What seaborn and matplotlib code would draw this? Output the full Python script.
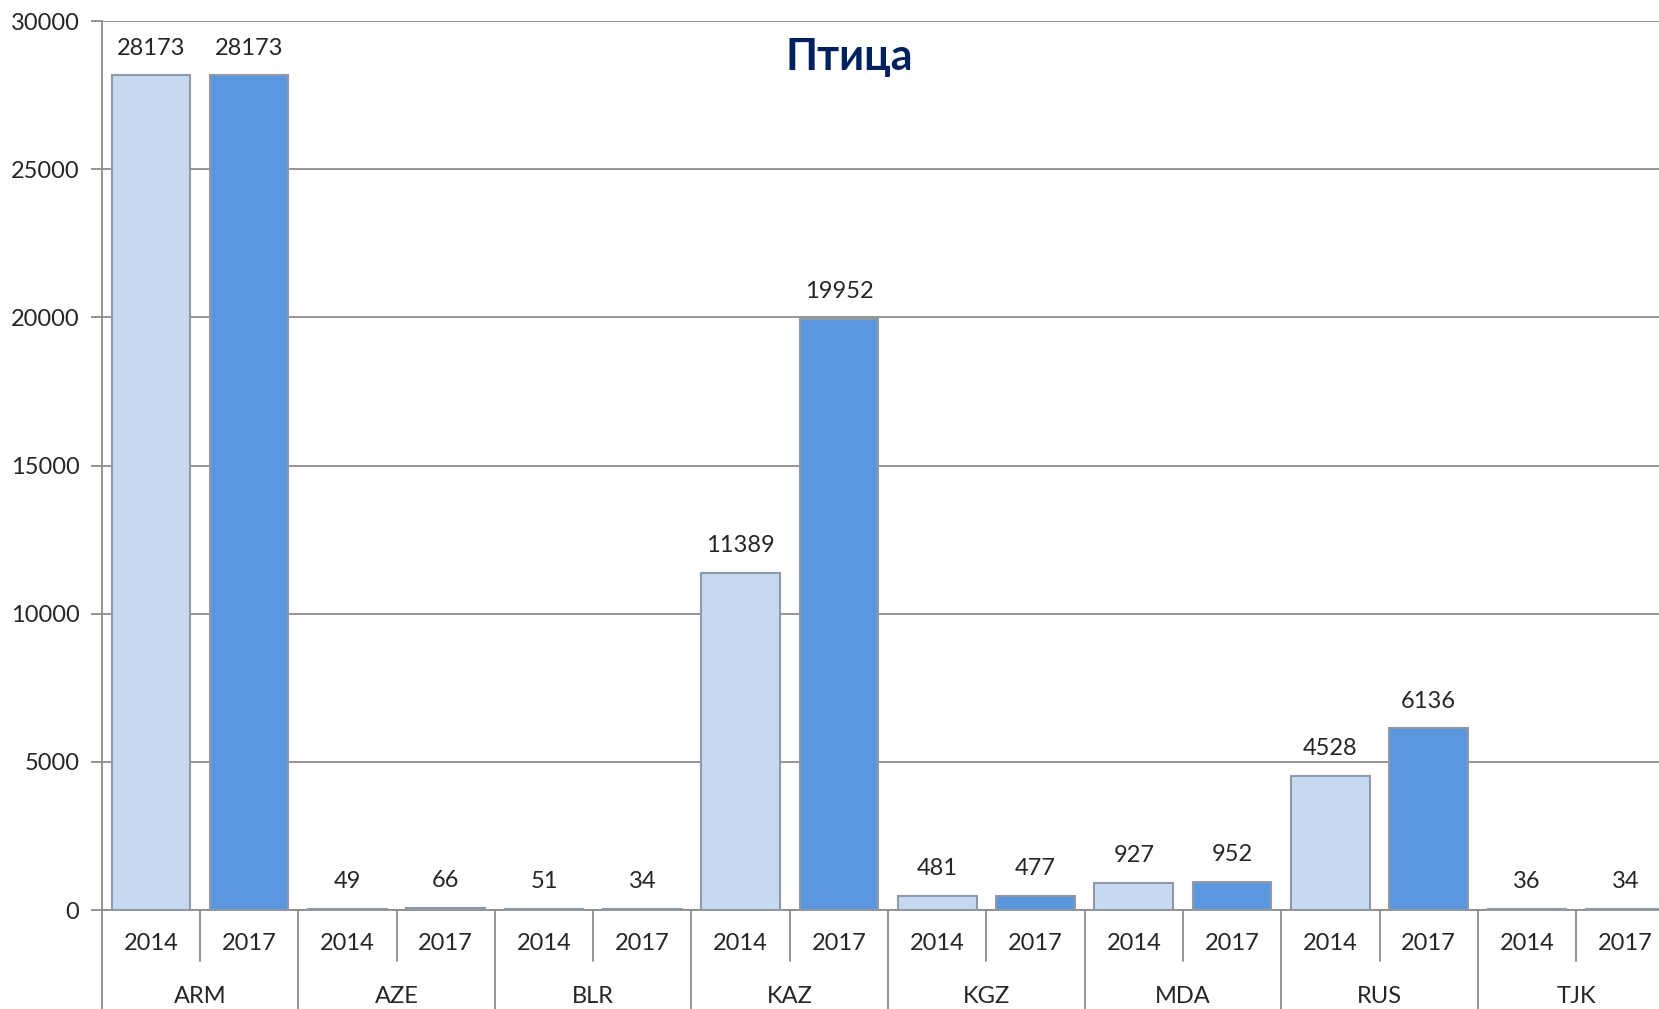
import pandas as pd
import numpy as np
import matplotlib
matplotlib.use("Agg")
import matplotlib.pyplot as plt
import matplotlib.transforms as mtrans
import seaborn as sns

# data
countries = ['ARM', 'AZE', 'BLR', 'KAZ', 'KGZ', 'MDA', 'RUS', 'TJK']
years = ['2014', '2017']
values_2014 = [28173, 49, 51, 11389, 481, 927, 4528, 36]
values_2017 = [28173, 66, 34, 19952, 477, 952, 6136, 34]
y_ticks = [0, 5000, 10000, 15000, 20000, 25000, 30000]

data = pd.DataFrame({
    'country': countries * 2,
    'year': [years[0]] * len(countries) + [years[1]] * len(countries),
    'value': values_2014 + values_2017,
})

sns.set_style('white')
plt.rcParams['font.family'] = ['Lato', 'Noto Sans', 'DejaVu Sans']

fig = plt.figure(figsize=(16.59, 10.09), dpi=100)
ax = fig.add_axes([0.0613, 0.098, 0.948, 0.881])

grid_col = '#8c8c8c'
fs = 17
sns.barplot(data=data, x='country', y='value', hue='year', order=countries,
            hue_order=years, palette=['#c6d9f1', '#5b97de'], width=1.0, gap=0.2,
            edgecolor='#8e9aa8', linewidth=1.5, saturation=1, ax=ax, legend=False, zorder=3)

for cont in ax.containers:
    ax.bar_label(cont, labels=[f'{int(v.get_height())}' for v in cont], padding=12, fontsize=fs)

ax.set_ylim(0, 30000)
ax.set_xlim(-0.5, len(countries) - 0.5)
ax.set_yticks(y_ticks)
ax.set_yticklabels([str(t) for t in y_ticks], fontsize=fs)
ax.yaxis.grid(True, color=grid_col, linewidth=1.3, zorder=0)
ax.tick_params(axis='y', length=8, width=1.3, color=grid_col, pad=8, direction='out', left=True)
for side in ['top', 'right']:
    ax.spines[side].set_visible(False)
for side in ['left', 'bottom']:
    ax.spines[side].set_color(grid_col)
    ax.spines[side].set_linewidth(1.3)

# two-level category axis: years under each bar, countries underneath
ax.set_xticks([])
ax.set_xlabel('')
ax.set_ylabel('')
trans = mtrans.blended_transform_factory(ax.transData, ax.transAxes)
for i, c in enumerate(countries):
    ax.text(i - 0.25, -0.038, years[0], transform=trans, ha='center', va='center', fontsize=fs)
    ax.text(i + 0.25, -0.038, years[1], transform=trans, ha='center', va='center', fontsize=fs)
    ax.text(i, -0.097, c, transform=trans, ha='center', va='center', fontsize=fs)
    ax.plot([i, i], [0, -0.057], transform=trans, color=grid_col, lw=1.3, clip_on=False)
    ax.plot([i - 0.5, i - 0.5], [0, -0.12], transform=trans, color=grid_col, lw=1.3, clip_on=False)

ax.text(0.512, 0.944, 'Птица', transform=fig.transFigure, ha='center', va='center',
        fontsize=31, fontweight='bold', color='#002060', family=['Lato', 'Noto Sans', 'DejaVu Sans'])

fig.savefig('out.png', dpi=100)
